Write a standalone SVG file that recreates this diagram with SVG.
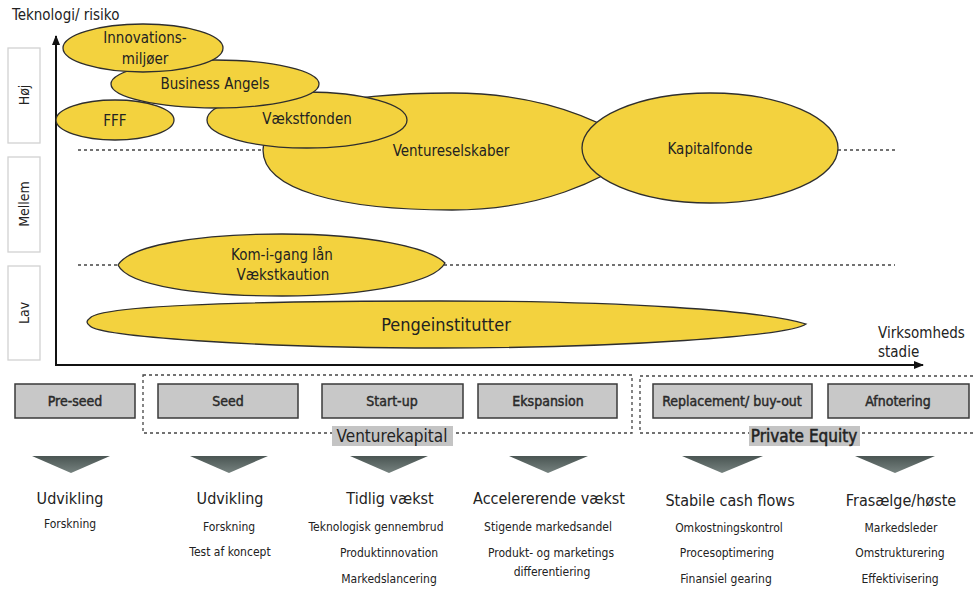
<svg xmlns="http://www.w3.org/2000/svg" width="976" height="589" viewBox="0 0 976 589">
<defs>
<style>
text{font-family:"DejaVu Sans Condensed","Liberation Sans Narrow","Liberation Sans",sans-serif;fill:#222}
.ell{fill:#F3D23E;stroke:#2e2e2e;stroke-width:1.3}
.lbl{font-size:15px;text-anchor:middle}
.side{fill:#fff;stroke:#d2d2d2;stroke-width:1.3}
.sidet{font-size:14px;text-anchor:middle}
.dash{stroke:#444;stroke-width:1.3;stroke-dasharray:3 3;fill:none}
.stage{fill:#c8c8c8;stroke:#3a3a3a;stroke-width:1.5}
.stt{font-size:14px;text-anchor:middle;fill:#2a2a2a;stroke:#2a2a2a;stroke-width:0.45}
.grp{fill:#c4c4c4}
.grpt{font-size:17px;text-anchor:middle;fill:#222}
.tri{fill:url(#tg)}
.h{font-size:16px;text-anchor:middle}
.s{font-size:12px;text-anchor:middle}
</style>
<linearGradient id="tg" x1="0" y1="0" x2="0" y2="1">
<stop offset="0" stop-color="#4a5553"/>
<stop offset="1" stop-color="#76827f"/>
</linearGradient>
<marker id="arr" markerWidth="10" markerHeight="8" refX="9" refY="4" orient="auto" markerUnits="userSpaceOnUse">
<path d="M0,0 L10,4 L0,8 Z" fill="#111"/>
</marker>
</defs>

<g id="axis-title">
<text x="12" y="20" font-size="15">Teknologi/ risiko</text>
<text x="878" y="338" font-size="15">Virksomheds</text>
<text x="878" y="357" font-size="15">stadie</text>
</g>

<g id="risk-levels">
<g id="hoej"><rect class="side" x="8" y="48" width="32" height="95"/><text class="sidet" transform="translate(29,95) rotate(-90)">Høj</text></g>
<g id="mellem"><rect class="side" x="8" y="157" width="32" height="95"/><text class="sidet" transform="translate(29,204) rotate(-90)">Mellem</text></g>
<g id="lav"><rect class="side" x="8" y="266" width="32" height="94"/><text class="sidet" transform="translate(29,313) rotate(-90)">Lav</text></g>
</g>

<g id="guides">
<line class="dash" x1="78" y1="150" x2="264" y2="150"/>
<line class="dash" x1="838" y1="150" x2="895" y2="150"/>
<line class="dash" x1="78" y1="265" x2="119" y2="265"/>
<line class="dash" x1="444" y1="265" x2="895" y2="265"/>
</g>

<g id="connectors">
<line x1="56" y1="365" x2="56" y2="36" stroke="#111" stroke-width="2" marker-end="url(#arr)"/>
<line x1="55" y1="365" x2="923" y2="365" stroke="#111" stroke-width="2" marker-end="url(#arr)"/>
</g>

<g id="ventureselskaber"><path class="ell" d="M263,150 C263,110 340,93 452,93 C540,93 600,118 645,150 C600,182 540,210 452,210 C340,210 263,190 263,150 Z"/><text class="lbl" x="451" y="156">Ventureselskaber</text></g>
<g id="kapitalfonde"><ellipse class="ell" cx="710" cy="148" rx="128" ry="55"/><text class="lbl" x="710" y="154">Kapitalfonde</text></g>
<g id="vaekstfonden"><ellipse class="ell" cx="307" cy="120" rx="100" ry="28"/><text class="lbl" x="307" y="124">Vækstfonden</text></g>
<g id="business-angels"><ellipse class="ell" cx="215" cy="84" rx="104" ry="24"/><text class="lbl" x="215" y="89">Business Angels</text></g>
<g id="innovationsmiljoer"><ellipse class="ell" cx="143" cy="48" rx="80" ry="24"/><text class="lbl" x="145" y="43">Innovations-</text><text class="lbl" x="145" y="64">miljøer</text></g>
<g id="fff"><ellipse class="ell" cx="115" cy="120" rx="59" ry="20"/><text class="lbl" x="115" y="126">FFF</text></g>
<g id="kom-i-gang"><path class="ell" d="M118,265 C130,245 200,234 282,234 C370,234 430,248 445,263 C435,282 370,296 282,296 C200,296 128,286 118,265 Z"/><text class="lbl" x="282" y="260">Kom-i-gang lån</text><text class="lbl" x="283" y="280">Vækstkaution</text></g>
<g id="pengeinstitutter"><path class="ell" d="M90,318 C100,305 250,301 440,301 C620,301 760,310 806,324 C790,336 620,348 440,348 C250,348 100,336 90,326 C86,323 86,321 90,318 Z"/><text x="446" y="331" font-size="18" text-anchor="middle">Pengeinstitutter</text></g>

<g id="venturekapital">
<rect class="dash" x="143" y="375" width="489" height="58"/>
<rect class="grp" x="332" y="426" width="121" height="20"/>
<text class="grpt" x="392" y="442">Venturekapital</text>
</g>
<g id="private-equity">
<path class="dash" d="M985,376 H640 V433 H985"/>
<rect class="grp" x="749" y="426" width="111" height="20"/>
<text class="grpt" x="804" y="442" stroke="#222" stroke-width="0.5">Private Equity</text>
</g>

<g id="pre-seed"><rect class="stage" x="15" y="384" width="120" height="34"/><text class="stt" x="75" y="406">Pre-seed</text></g>
<g id="seed"><rect class="stage" x="158" y="384" width="140" height="34"/><text class="stt" x="228" y="406">Seed</text></g>
<g id="start-up"><rect class="stage" x="322" y="384" width="141" height="34"/><text class="stt" x="392" y="406">Start-up</text></g>
<g id="ekspansion"><rect class="stage" x="478" y="384" width="139" height="34"/><text class="stt" x="548" y="406">Ekspansion</text></g>
<g id="replacement"><rect class="stage" x="653" y="384" width="159" height="34"/><text class="stt" x="732" y="406">Replacement/ buy-out</text></g>
<g id="afnotering"><rect class="stage" x="828" y="384" width="141" height="34"/><text class="stt" x="898" y="406">Afnotering</text></g>

<g id="col-preseed">
<polygon class="tri" points="32,456 110,456 71,473"/>
<text class="h" x="70" y="504">Udvikling</text>
<text class="s" x="70" y="528">Forskning</text>
</g>
<g id="col-seed">
<polygon class="tri" points="190,456 268,456 229,473"/>
<text class="h" x="230" y="504">Udvikling</text>
<text class="s" x="229" y="531">Forskning</text>
<text class="s" x="230" y="556">Test af koncept</text>
</g>
<g id="col-startup">
<polygon class="tri" points="350,456 428,456 389,473"/>
<text class="h" x="390" y="504">Tidlig vækst</text>
<text class="s" x="376" y="531">Teknologisk gennembrud</text>
<text class="s" x="389" y="557">Produktinnovation</text>
<text class="s" x="389" y="583">Markedslancering</text>
</g>
<g id="col-ekspansion">
<polygon class="tri" points="509,456 588,456 548,473"/>
<text class="h" x="549" y="504">Accelererende vækst</text>
<text class="s" x="548" y="531">Stigende markedsandel</text>
<text class="s" x="551" y="557">Produkt- og marketings</text>
<text class="s" x="552" y="576">differentiering</text>
</g>
<g id="col-replacement">
<polygon class="tri" points="682,456 763,456 722,473"/>
<text class="h" x="730" y="506">Stabile cash flows</text>
<text class="s" x="729" y="532">Omkostningskontrol</text>
<text class="s" x="727" y="557">Procesoptimering</text>
<text class="s" x="726" y="583">Finansiel gearing</text>
</g>
<g id="col-afnotering">
<polygon class="tri" points="855,456 935,456 895,473"/>
<text class="h" x="901" y="506">Frasælge/høste</text>
<text class="s" x="901" y="532">Markedsleder</text>
<text class="s" x="900" y="557">Omstrukturering</text>
<text class="s" x="900" y="583">Effektivisering</text>
</g>
</svg>
